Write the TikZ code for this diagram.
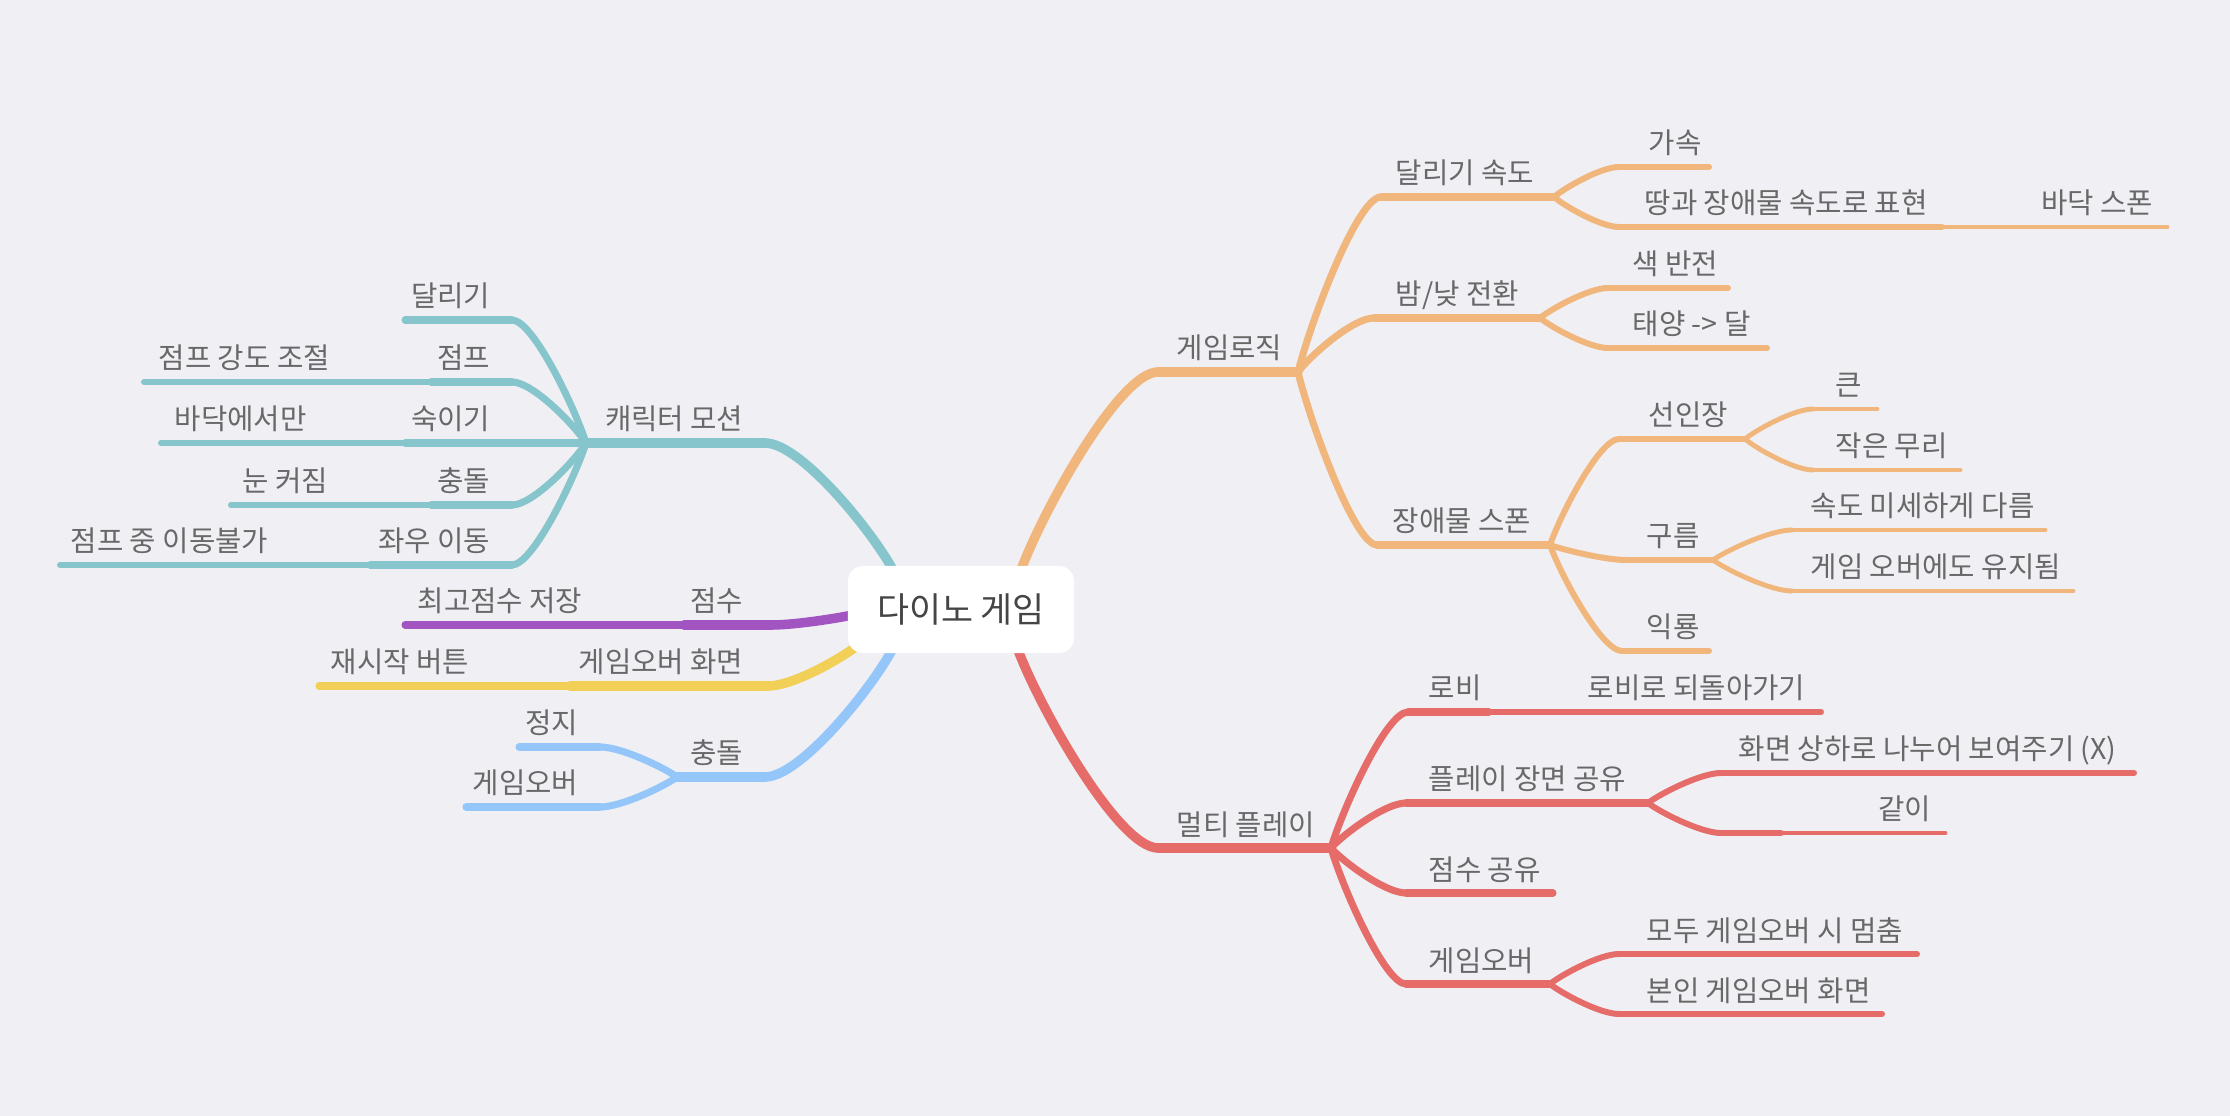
\documentclass[tikz,border=0pt]{standalone}
\usepackage{fontspec}
\usetikzlibrary{calc}
\newfontfamily\kr{Noto Sans CJK KR}
\definecolor{bg}{HTML}{EFEFF4}
\definecolor{cteal}{HTML}{86C5CC}
\definecolor{corange}{HTML}{F0B67B}
\definecolor{cred}{HTML}{E66C69}
\definecolor{cpurple}{HTML}{A254C1}
\definecolor{cyellow}{HTML}{F2D058}
\definecolor{cblue}{HTML}{94C6FA}
\definecolor{ctext}{HTML}{686868}
\definecolor{croot}{HTML}{454545}
\newcommand{\seg}[5]{%
  \coordinate (#1-l) at (#2,#4);
  \coordinate (#1-r) at (#3,#4);
  \draw[#5] (#1-l) -- (#1-r);}
\newcommand{\mmcurve}[3]{%
  \draw[#1] let \p1=(#2), \p2=(#3) in (\p1) .. controls ({\x1+0.16*(\x2-\x1)},{\y1+0.3*(\y2-\y1)}) and ({\x1+0.72*(\x2-\x1)},{\y2}) .. (\p2);}
\newcommand{\lab}[5]{\node[lbl,anchor=base #2] (#1) at (#3,#4) {#5};}
\tikzset{
  w1/.style={line width=2.7pt,line cap=round},
  w2/.style={line width=2.0pt,line cap=round},
  w3/.style={line width=1.7pt,line cap=round},
  w4/.style={line width=1.4pt,line cap=round},
  lbl/.style={font=\kr\fontsize{8.15}{10}\selectfont,text=ctext,inner sep=0pt},
  rootbox/.style={fill=white,rounded corners=4.3pt,minimum width=2.26cm,minimum height=0.87cm,inner sep=0pt,font=\kr\fontsize{9.9}{12}\selectfont,text=croot}
}
\begin{document}
\begin{tikzpicture}[x=0.01cm,y=-0.01cm]
\fill[bg] (0,0) rectangle (2230,1116);
% start points on the central box
\coordinate (s-cm) at (893,570);
\coordinate (s-score) at (852,615);
\coordinate (s-go) at (862,642);
\coordinate (s-coll) at (892,650);
\coordinate (s-logic) at (1021,570);
\coordinate (s-multi) at (1018,650);
% ---------- teal: 캐릭터 모션
\seg{cm}{586}{765}{443}{cteal,w1}
\seg{run}{405}{512}{320}{cteal,w2}
\seg{jump}{431}{512}{382}{cteal,w2}
\seg{jumpstr}{144}{431}{382}{cteal,w3}
\seg{duck}{405}{512}{443}{cteal,w2}
\seg{floor}{161}{405}{443}{cteal,w3}
\seg{coll}{431}{512}{505}{cteal,w2}
\seg{eye}{231}{431}{505}{cteal,w3}
\seg{lr}{370}{512}{565}{cteal,w2}
\seg{nomove}{60}{370}{565}{cteal,w3}
\mmcurve{cteal,w1}{s-cm}{cm-r}
\mmcurve{cteal,w2}{cm-l}{run-r}
\mmcurve{cteal,w2}{cm-l}{jump-r}
\mmcurve{cteal,w2}{cm-l}{duck-r}
\mmcurve{cteal,w2}{cm-l}{coll-r}
\mmcurve{cteal,w2}{cm-l}{lr-r}
% ---------- purple: 점수
\seg{score}{684}{772}{625}{cpurple,w1}
\seg{best}{405}{684}{625}{cpurple,w2}
\mmcurve{cpurple,w1}{s-score}{score-r}
% ---------- yellow: 게임오버 화면
\seg{go}{570}{768}{686}{cyellow,w1}
\seg{restart}{319}{570}{686}{cyellow,w2}
\mmcurve{cyellow,w1}{s-go}{go-r}
% ---------- blue: 충돌
\seg{coll2}{677}{765}{777}{cblue,w1}
\seg{stop}{519}{600}{747}{cblue,w2}
\seg{gover}{466}{600}{807}{cblue,w2}
\mmcurve{cblue,w1}{s-coll}{coll2-r}
\mmcurve{cblue,w2}{coll2-l}{stop-r}
\mmcurve{cblue,w2}{coll2-l}{gover-r}
% ---------- orange: 게임로직
\seg{logic}{1158}{1298}{372}{corange,w1}
\seg{rspeed}{1381}{1554}{197}{corange,w2}
\seg{accel}{1619}{1709}{167}{corange,w3}
\seg{ground}{1619}{1942}{227}{corange,w3}
\seg{fspawn}{1942}{2167}{227}{corange,w4}
\seg{dn}{1374}{1540}{318}{corange,w2}
\seg{invert}{1608}{1728}{288}{corange,w3}
\seg{sunmoon}{1608}{1767}{348}{corange,w3}
\seg{obst}{1377}{1550}{545}{corange,w2}
\seg{cactus}{1619}{1745}{439}{corange,w3}
\seg{big}{1813}{1877}{409}{corange,w4}
\seg{small}{1813}{1960}{470}{corange,w4}
\seg{cloud}{1626}{1713}{560}{corange,w3}
\seg{speed}{1792}{2045}{530}{corange,w4}
\seg{keep}{1792}{2073}{591}{corange,w4}
\seg{ptero}{1622}{1709}{651}{corange,w3}
\mmcurve{corange,w1}{s-logic}{logic-l}
\mmcurve{corange,w2}{logic-r}{rspeed-l}
\mmcurve{corange,w2}{logic-r}{dn-l}
\mmcurve{corange,w2}{logic-r}{obst-l}
\mmcurve{corange,w3}{rspeed-r}{accel-l}
\mmcurve{corange,w3}{rspeed-r}{ground-l}
\mmcurve{corange,w3}{dn-r}{invert-l}
\mmcurve{corange,w3}{dn-r}{sunmoon-l}
\mmcurve{corange,w3}{obst-r}{cactus-l}
\mmcurve{corange,w3}{obst-r}{cloud-l}
\mmcurve{corange,w3}{obst-r}{ptero-l}
\mmcurve{corange,w4}{cactus-r}{big-l}
\mmcurve{corange,w4}{cactus-r}{small-l}
\mmcurve{corange,w4}{cloud-r}{speed-l}
\mmcurve{corange,w4}{cloud-r}{keep-l}
% ---------- red: 멀티 플레이
\seg{multi}{1158}{1331}{848}{cred,w1}
\seg{lobby}{1408}{1489}{712}{cred,w2}
\seg{back}{1489}{1821}{712}{cred,w3}
\seg{share}{1406}{1648}{803}{cred,w2}
\seg{split}{1721}{2134}{773}{cred,w3}
\seg{emp}{1721}{1781}{833}{cred,w3}
\seg{tog}{1781}{1945}{833}{cred,w4}
\seg{sshare}{1406}{1553}{893}{cred,w2}
\seg{mgo}{1406}{1550}{984}{cred,w2}
\seg{allstop}{1619}{1917}{954}{cred,w3}
\seg{self}{1619}{1882}{1014}{cred,w3}
\mmcurve{cred,w1}{s-multi}{multi-l}
\mmcurve{cred,w2}{multi-r}{lobby-l}
\mmcurve{cred,w2}{multi-r}{share-l}
\mmcurve{cred,w2}{multi-r}{sshare-l}
\mmcurve{cred,w2}{multi-r}{mgo-l}
\mmcurve{cred,w3}{share-r}{split-l}
\mmcurve{cred,w3}{share-r}{emp-l}
\mmcurve{cred,w3}{mgo-r}{allstop-l}
\mmcurve{cred,w3}{mgo-r}{self-l}
% ---------- central box
\node[rootbox] (root) at (961,609.5) {다이노 게임};
% ---------- labels
\lab{t-cm}{east}{744}{430}{캐릭터 모션}
\lab{t-run}{east}{491}{307}{달리기}
\lab{t-jump}{east}{491}{369}{점프}
\lab{t-jumpstr}{west}{158}{369}{점프 강도 조절}
\lab{t-duck}{east}{491}{430}{숙이기}
\lab{t-floor}{west}{174}{430}{바닥에서만}
\lab{t-coll}{east}{491}{492}{충돌}
\lab{t-eye}{west}{242}{492}{눈 커짐}
\lab{t-lr}{east}{491}{552}{좌우 이동}
\lab{t-nomove}{west}{70}{552}{점프 중 이동불가}
\lab{t-score}{east}{744}{612}{점수}
\lab{t-best}{west}{417}{612}{최고점수 저장}
\lab{t-go}{east}{744}{673}{게임오버 화면}
\lab{t-restart}{west}{330}{673}{재시작 버튼}
\lab{t-coll2}{east}{744}{764}{충돌}
\lab{t-stop}{east}{579}{734}{정지}
\lab{t-gover}{east}{579}{794}{게임오버}
\lab{t-logic}{west}{1176}{359}{게임로직}
\lab{t-rspeed}{west}{1395}{184}{달리기 속도}
\lab{t-accel}{west}{1648}{154}{가속}
\lab{t-ground}{west}{1644}{214}{땅과 장애물 속도로 표현}
\lab{t-fspawn}{east}{2154}{214}{바닥 스폰}
\lab{t-dn}{west}{1395}{305}{밤/낮 전환}
\lab{t-invert}{west}{1632}{275}{색 반전}
\lab{t-sunmoon}{west}{1632}{335}{태양 -> 달}
\lab{t-obst}{west}{1392}{532}{장애물 스폰}
\lab{t-cactus}{west}{1648}{426}{선인장}
\lab{t-big}{west}{1835}{396}{큰}
\lab{t-small}{west}{1835}{457}{작은 무리}
\lab{t-cloud}{west}{1646}{547}{구름}
\lab{t-speed}{west}{1810}{517}{속도 미세하게 다름}
\lab{t-keep}{west}{1810}{578}{게임 오버에도 유지됨}
\lab{t-ptero}{west}{1646}{638}{익룡}
\lab{t-multi}{west}{1176}{835}{멀티 플레이}
\lab{t-lobby}{west}{1428}{699}{로비}
\lab{t-back}{east}{1806}{699}{로비로 되돌아가기}
\lab{t-share}{west}{1428}{790}{플레이 장면 공유}
\lab{t-split}{west}{1738}{760}{화면 상하로 나누어 보여주기 (X)}
\lab{t-tog}{east}{1932}{820}{같이}
\lab{t-sshare}{west}{1428}{880}{점수 공유}
\lab{t-mgo}{west}{1428}{971}{게임오버}
\lab{t-allstop}{west}{1646}{941}{모두 게임오버 시 멈춤}
\lab{t-self}{west}{1646}{1001}{본인 게임오버 화면}
\end{tikzpicture}
\end{document}
